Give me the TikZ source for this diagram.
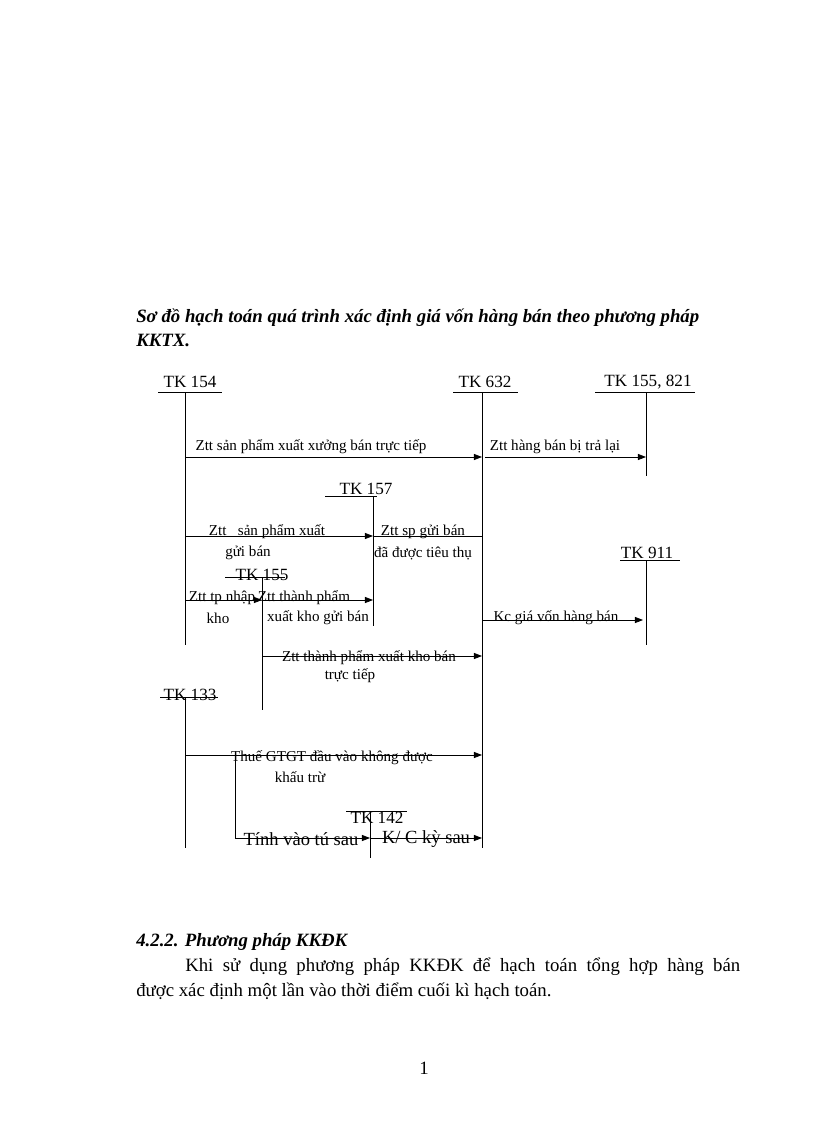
\documentclass[tikz,border=0pt]{standalone}
\usepackage{fontspec}
\setmainfont{Liberation Serif}
\usetikzlibrary{arrows.meta}
\begin{document}
\begin{tikzpicture}[x=0.729pt,y=-0.729pt,
  ln/.style={line width=0.6pt},
  ar/.style={line width=0.6pt,-{Triangle[length=6pt,width=4.5pt]}},
  tk/.style={font=\fontsize{12.5}{14}\selectfont,inner sep=0pt},
  lb/.style={font=\fontsize{11}{12}\selectfont,inner sep=0pt},
  big/.style={font=\fontsize{13.5}{15}\selectfont,inner sep=0pt},
  hd/.style={anchor=west,inner sep=0pt,font=\fontsize{13.7}{16}\selectfont\bfseries\itshape}]
\useasboundingbox (0,0) rectangle (816,1123);
% title
\node[hd] (t1) at (136,318) {Sơ đồ hạch toán quá trình xác định giá vốn hàng bán theo phương pháp};
\node[hd] (t2) at (136,340) {KKTX.};
% accounts
\node[tk] (k154) at (190,382) {TK 154};
\coordinate (a1) at (158,392); \coordinate (a2) at (222,392);
\draw[ln] (a1)--(a2);
\coordinate (v154t) at (185,392); \coordinate (v154b) at (185,645);
\draw[ln] (v154t)--(v154b);
\node[tk] (k632) at (485,382) {TK 632};
\coordinate (b1) at (453,392); \coordinate (b2) at (518,392);
\draw[ln] (b1)--(b2);
\coordinate (v632t) at (482,392); \coordinate (v632b) at (482,848);
\draw[ln] (v632t)--(v632b);
\node[tk] (k155a) at (648,382) {TK 155, 821};
\coordinate (c1) at (595,392); \coordinate (c2) at (695,392);
\draw[ln] (c1)--(c2);
\coordinate (v155t) at (646,392); \coordinate (v155b) at (646,476);
\draw[ln] (v155t)--(v155b);
% row 1
\coordinate (r1a) at (185,457); \coordinate (r1b) at (482,457);
\coordinate (r1c) at (485,457); \coordinate (r1d) at (646,457);
\draw[ar] (r1a)--(r1b); \draw[ar] (r1c)--(r1d);
\node[lb] (l1) at (311,447) {Ztt sản phẩm  xuất  xưởng  bán  trực tiếp};
\node[lb] (l2) at (555,447) {Ztt hàng  bán  bị  trả  lại};
% TK 157
\node[tk] (k157) at (366,489) {TK 157};
\coordinate (d1) at (325,496); \coordinate (d2) at (377,496);
\draw[ln] (d1)--(d2);
\coordinate (v157t) at (373,496); \coordinate (v157b) at (373,626);
\draw[ln] (v157t)--(v157b);
\coordinate (r2a) at (185,536); \coordinate (r2b) at (373,536); \coordinate (r2c) at (482,536);
\draw[ar] (r2a)--(r2b); \draw[ln] (r2b)--(r2c);
\node[lb] (l3) at (267,532) {Ztt \ \ sản phẩm  xuất};
\node[lb] (l4) at (248,553) {gửi bán};
\node[lb] (l5) at (423,532) {Ztt sp  gửi bán};
\node[lb] (l6) at (423,553) {đã được tiêu  thụ};
% TK 911
\node[tk] (k911) at (647,553) {TK 911};
\coordinate (e1) at (620,560); \coordinate (e2) at (680,560);
\draw[ln] (e1)--(e2);
\coordinate (v911t) at (646,560); \coordinate (v911b) at (646,645);
\draw[ln] (v911t)--(v911b);
% TK 155 second
\node[tk] (k155b) at (262,575) {TK 155};
\coordinate (f1) at (225,577); \coordinate (f2) at (285,577);
\draw[ln] (f1)--(f2);
\coordinate (v155bt) at (262,577); \coordinate (v155bb) at (262,710);
\draw[ln] (v155bt)--(v155bb);
\coordinate (r3a) at (185,600); \coordinate (r3b) at (262,600); \coordinate (r3c) at (373,600);
\draw[ar] (r3a)--(r3b); \draw[ar] (r3b)--(r3c);
\node[lb] (l7) at (222,598) {Ztt tp nhập};
\node[lb] (l8) at (218,618) {kho};
\node[lb] (l9) at (304,598) {Ztt thành phẩm};
\node[lb] (l10) at (318,618) {xuất  kho gửi bán};
\coordinate (r4a) at (482,620); \coordinate (r4b) at (643,620);
\draw[ar] (r4a)--(r4b);
\node[lb] (l11) at (556,618) {Kc giá  vốn  hàng  bán};
% row 5
\coordinate (r5a) at (262,656); \coordinate (r5b) at (482,656);
\draw[ar] (r5a)--(r5b);
\node[lb] (l12) at (369,658) {Ztt  thành  phẩm  xuất  kho bán};
\node[lb] (l13) at (350,676) {trực tiếp};
% TK 133
\node[tk] (k133) at (190,695) {TK 133};
\coordinate (g1) at (160,697); \coordinate (g2) at (218,697);
\draw[ln] (g1)--(g2);
\coordinate (v133t) at (185,697); \coordinate (v133b) at (185,848);
\draw[ln] (v133t)--(v133b);
\coordinate (r6a) at (185,755); \coordinate (r6b) at (482,755);
\draw[ar] (r6a)--(r6b);
\node[lb] (l14) at (332,758) {Thuế  GTGT  đầu vào không  được};
\node[lb] (l15) at (300,777) {khấu trừ};
\coordinate (v235t) at (235,755); \coordinate (v235b) at (235,838);
\draw[ln] (v235t)--(v235b);
% TK 142
\coordinate (h1) at (346,811); \coordinate (h2) at (407,811);
\draw[ln] (h1)--(h2);
\node[tk] (k142) at (377,818) {TK 142};
\coordinate (v142t) at (370,811); \coordinate (v142b) at (370,858);
\draw[ln] (v142t)--(v142b);
\coordinate (r7b) at (370,838); \coordinate (r7c) at (482,838);
\draw[ar] (v235b)--(r7b); \draw[ar] (r7b)--(r7c);
\node[big] (l16) at (301,839) {Tính vào tú sau};
\node[big] (l17) at (426,839) {K/ C kỳ sau};
% text below
\node[hd] (s1) at (136,942) {4.2.2. Phương pháp KKĐK};
\node[anchor=west,inner sep=0pt,font=\fontsize{13.7}{16}\selectfont] (p1) at (185,967) {\makebox[404.6pt][s]{Khi sử dụng phương pháp KKĐK để hạch toán tổng hợp hàng bán}};
\node[anchor=west,inner sep=0pt,font=\fontsize{13.7}{16}\selectfont] (p2) at (136,991) {được xác định một lần vào thời điểm cuối kì hạch toán.};
\node[inner sep=0pt,font=\fontsize{13.7}{16}\selectfont] (pg) at (424,1068) {1};
\end{tikzpicture}
\end{document}
